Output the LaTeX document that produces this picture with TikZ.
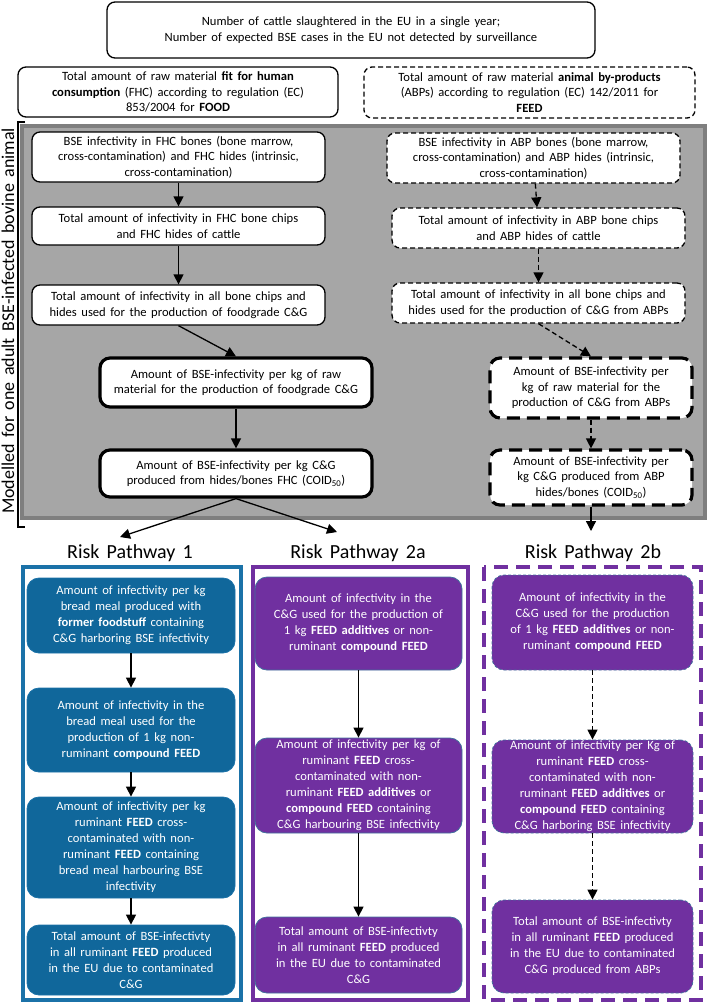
\documentclass[tikz,border=0pt]{standalone}
\usepackage{fontspec}
\setmainfont{Carlito}[WordSpace=1.6]
\usetikzlibrary{arrows.meta}
\definecolor{greyfill}{HTML}{A6A6A6}
\definecolor{greyline}{HTML}{7F7F7F}
\definecolor{bluebox}{HTML}{10679B}
\definecolor{blueframe}{HTML}{1B72A8}
\definecolor{purplebox}{HTML}{7030A0}
\definecolor{boxedge}{HTML}{41719C}
\tikzset{
  x=1pt, y=-1pt,
  txt/.style={font=\fontsize{12.6}{15.5}\selectfont, align=center, inner sep=0pt},
  wbox/.style={txt, draw=black, fill=white, line width=1.3pt, rounded corners=8pt},
  wdash/.style={wbox, dash pattern=on 5pt off 3pt},
  wthick/.style={wbox, line width=3.2pt, rounded corners=10pt},
  wthickdash/.style={wthick, dash pattern=on 13pt off 7pt},
  bbox/.style={txt, fill=bluebox, draw=blueframe, line width=0.8pt, text=white, rounded corners=12pt, font=\fontsize{12.6}{16}\selectfont},
  pbox/.style={txt, fill=purplebox, draw=boxedge, line width=0.8pt, text=white, rounded corners=12pt, font=\fontsize{12.6}{16}\selectfont},
  pdbox/.style={pbox, dash pattern=on 3pt off 2pt},
  arr/.style={line width=1.3pt, -{Triangle[length=10pt,width=10pt]}},
  darr/.style={arr, dash pattern=on 5pt off 3pt},
  title/.style={font=\fontsize{20}{24}\selectfont, inner sep=0pt}
}
\begin{document}
\begin{tikzpicture}
\useasboundingbox (0,0) rectangle (709,1004);
% grey modelling region
\draw[fill=greyfill, draw=greyline, line width=4pt] (22,126) rectangle (705,518);
\draw[line width=1.3pt] (25,122) -- (18,122) -- (18,527) -- (25,527);
\node[rotate=90, font=\fontsize{18}{20}\selectfont, inner sep=0pt] (lab) at (8,321) {Modelled for one adult BSE-infected bovine animal};

% top boxes
\node[wbox, minimum width=488pt, minimum height=56pt] (top) at (351,30)
  {Number of cattle slaughtered in the EU in a single year;\\Number of expected BSE cases in the EU not detected by surveillance};
\node[wbox, minimum width=320pt, minimum height=50pt] (fhc) at (178,92)
  {Total amount of raw material \textbf{fit for human}\\\textbf{consumption} (FHC) according to regulation (EC)\\853/2004 for \textbf{FOOD}};
\node[wdash, minimum width=331pt, minimum height=51pt] (abp) at (529.5,92.5)
  {Total amount of raw material \textbf{animal by-products}\\(ABPs) according to regulation (EC) 142/2011 for\\\textbf{FEED}};

% left column
\node[wbox, minimum width=293pt, minimum height=50pt] (L1) at (178.5,157)
  {BSE infectivity in FHC bones (bone marrow,\\cross-contamination) and FHC hides (intrinsic,\\cross-contamination)};
\node[wbox, minimum width=293pt, minimum height=38pt] (L2) at (178.5,226)
  {Total amount of infectivity in FHC bone chips\\and FHC hides of cattle};
\node[wbox, minimum width=293pt, minimum height=40pt] (L3) at (178.5,305)
  {Total amount of infectivity in all bone chips and\\hides used for the production of foodgrade C\&G};
\node[wthick, minimum width=272pt, minimum height=49pt] (L4) at (236,382.5)
  {Amount of BSE-infectivity per kg of raw\\material for the production of foodgrade C\&G};
\node[wthick, minimum width=272pt, minimum height=47pt] (L5) at (236,473.5)
  {Amount of BSE-infectivity per kg C\&G\\produced from hides/bones FHC (COID\textsubscript{50})};

% right column
\node[wdash, minimum width=293pt, minimum height=50pt] (R1) at (533.5,158)
  {BSE infectivity in ABP bones (bone marrow,\\cross-contamination) and ABP hides (intrinsic,\\cross-contamination)};
\node[wdash, minimum width=293pt, minimum height=40pt] (R2) at (538.5,228)
  {Total amount of infectivity in ABP bone chips\\and ABP hides of cattle};
\node[wdash, minimum width=293pt, minimum height=40pt] (R3) at (538.5,303)
  {Total amount of infectivity in all bone chips and\\hides used for the production of C\&G from ABPs};
\node[wthickdash, minimum width=202pt, minimum height=60pt] (R4) at (591,388)
  {Amount of BSE-infectivity per\\kg of raw material for the\\production of C\&G from ABPs};
\node[wthickdash, minimum width=202pt, minimum height=55pt] (R5) at (591,477.5)
  {Amount of BSE-infectivity per\\kg C\&G produced from ABP\\hides/bones (COID\textsubscript{50})};

\draw[arr] (L1) -- (L2);
\draw[arr] (L2) -- (L3);
\draw[arr] (L3.south) -- (L4.north);
\draw[arr] (L4) -- (L5);
\draw[darr] (R1) -- (R2);
\draw[darr] (R2) -- (R3);
\draw[darr] (R3.south) -- (R4.north);
\draw[darr] (R4) -- (R5);

% titles
\node[title] (T1) at (130,553) {Risk Pathway 1};
\node[title] (T2a) at (358,553) {Risk Pathway 2a};
\node[title] (T2b) at (593,553) {Risk Pathway 2b};
\coordinate (e1) at (120,537);
\coordinate (e2a) at (337,532);
\coordinate (e2b) at (591,531);
\draw[arr] (L5.south) -- (e1);
\draw[arr] (L5.south) -- (e2a);
\draw[arr] (R5.south) -- (e2b);

% pathway frames
\draw[blueframe, line width=3.2pt] (23,567) rectangle (241,1000);
\draw[purplebox, line width=3.2pt] (253,567) rectangle (468,1000);
\draw[purplebox, line width=4pt, dash pattern=on 14pt off 8pt] (484,567) rectangle (701,1000);

% pathway 1
\node[bbox, minimum width=208pt, minimum height=75pt] (B1) at (131,615.5)
  {Amount of infectivity per kg\\bread meal produced with\\\textbf{former foodstuff} containing\\C\&G harboring BSE infectivity};
\node[bbox, minimum width=208pt, minimum height=84pt] (B2) at (131,730)
  {Amount of infectivity in the\\bread meal used for the\\production of 1 kg non-\\ruminant \textbf{compound FEED}};
\node[bbox, minimum width=208pt, minimum height=101pt] (B3) at (131,847.5)
  {Amount of infectivity per kg\\ruminant \textbf{FEED} cross-\\contaminated with non-\\ruminant \textbf{FEED} containing\\bread meal harbouring BSE\\infectivity};
\node[bbox, minimum width=208pt, minimum height=70pt] (B4) at (131,960)
  {Total amount of BSE-infectivty\\in all ruminant \textbf{FEED} produced\\in the EU due to contaminated\\C\&G};
\draw[arr] (B1) -- (B2);
\draw[arr] (B2) -- (B3);
\draw[arr] (B3) -- (B4);

% pathway 2a
\node[pbox, minimum width=207pt, minimum height=93pt] (C1) at (358.5,623.5)
  {Amount of infectivity in the\\C\&G used for the production of\\1 kg \textbf{FEED additives} or non-\\ruminant \textbf{compound FEED}};
\node[pbox, minimum width=207pt, minimum height=95pt] (C2) at (358.5,785.5)
  {Amount of infectivity per kg of\\ruminant \textbf{FEED} cross-\\contaminated with non-\\ruminant \textbf{FEED additives} or\\\textbf{compound FEED} containing\\C\&G harbouring BSE infectivity};
\node[pbox, minimum width=207pt, minimum height=76pt] (C3) at (358.5,955)
  {Total amount of BSE-infectivty\\in all ruminant \textbf{FEED} produced\\in the EU due to contaminated\\C\&G};
\draw[arr] (C1) -- (C2);
\draw[arr] (C2) -- (C3);

% pathway 2b
\node[pdbox, minimum width=201pt, minimum height=95pt] (D1) at (592.5,622.5)
  {Amount of infectivity in the\\C\&G used for the production\\of 1 kg \textbf{FEED additives} or non-\\ruminant \textbf{compound FEED}};
\node[pdbox, minimum width=201pt, minimum height=93pt] (D2) at (592.5,786.5)
  {Amount of infectivity per Kg of\\ruminant \textbf{FEED} cross-\\contaminated with non-\\ruminant \textbf{FEED additives} or\\\textbf{compound FEED} containing\\C\&G harboring BSE infectivity};
\node[pdbox, minimum width=201pt, minimum height=93pt] (D3) at (592.5,946.5)
  {Total amount of BSE-infectivty\\in all ruminant \textbf{FEED} produced\\in the EU due to contaminated\\C\&G produced from ABPs};
\draw[darr] (D1) -- (D2);
\draw[darr] (D2) -- (D3);
\end{tikzpicture}
\end{document}
